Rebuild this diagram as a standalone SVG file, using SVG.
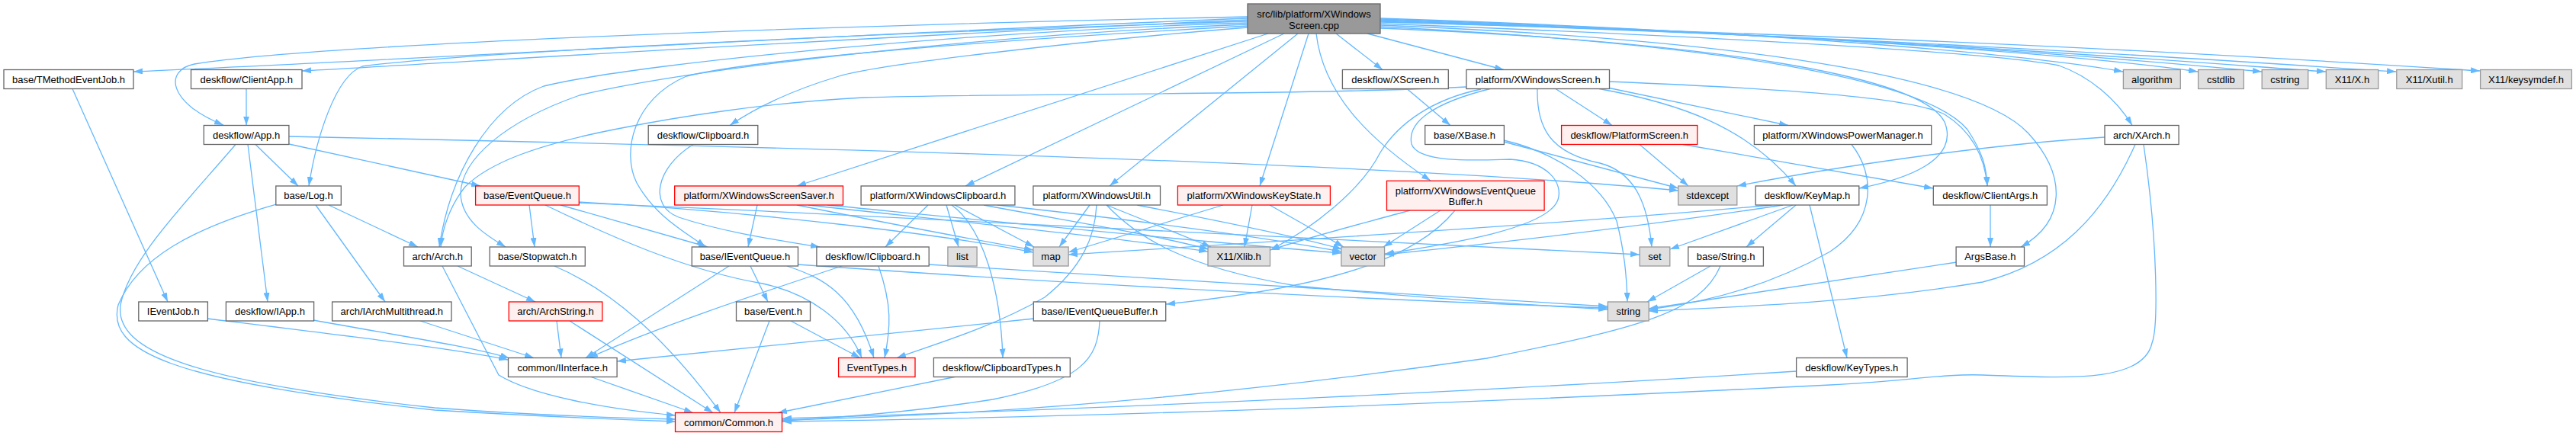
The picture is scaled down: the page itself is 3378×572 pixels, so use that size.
<svg xmlns="http://www.w3.org/2000/svg" width="3378" height="572" viewBox="0 0 3378 572">
<style>
.e{fill:none;stroke:#63B8FF;stroke-width:1.3;marker-end:url(#a)}
.n{fill:#FFFFFF;stroke:#666666;stroke-width:1.3}
.s{fill:#E0E0E0;stroke:#999999;stroke-width:1.3}
.t{fill:#FFF0F0;stroke:#FF0000;stroke-width:1.3}
.r{fill:#999999;stroke:#666666;stroke-width:1.3}
text{font-family:"Liberation Sans",Arial,Helvetica,sans-serif;font-size:13px;fill:#000000;text-anchor:middle}
</style>
<defs>
<marker id="a" markerWidth="12" markerHeight="8" refX="12" refY="4" orient="auto" markerUnits="userSpaceOnUse">
<path d="M0,0 L12,4 L0,8 z" fill="#63B8FF"/>
</marker>
</defs>
<rect width="3378" height="572" fill="#FFFFFF"/>
<g id="edges">
<path class="e" d="M1636,24 C1100,45 500,80 175,94"/>
<path class="e" d="M1636,26 C1100,50 600,82 396,93"/>
<path class="e" d="M1636,22 C1000,35 400,60 255,84 C215,92 220,135 293,164"/>
<path class="e" d="M1636,28 C1100,45 600,70 475,87 C440,100 415,180 405,244"/>
<path class="e" d="M1636,30 C1300,40 850,80 713,113 C640,140 590,230 576,324"/>
<path class="e" d="M1636,32 C1300,45 900,90 760,125 C660,160 605,210 604,254 C605,290 640,310 663,324"/>
<path class="e" d="M1636,36 C1400,55 1150,85 1100,100 C1050,115 1000,135 957,164.5"/>
<path class="e" d="M1636,34 C1350,50 1000,75 900,100 C830,130 815,200 835,240 C860,285 900,305 925,324"/>
<path class="e" d="M1663,44 L1045,244"/>
<path class="e" d="M1684,44 L1266,244"/>
<path class="e" d="M1702,44 L1455,244"/>
<path class="e" d="M1716,44 L1652,244"/>
<path class="e" d="M1726,44 C1735,120 1790,180 1876,237"/>
<path class="e" d="M1752,44 L1813,91.5"/>
<path class="e" d="M1793,44 L1972,91.5"/>
<path class="e" d="M1810,24 C2300,40 2650,70 2784,94"/>
<path class="e" d="M1810,25 C2400,45 2750,75 2882,94"/>
<path class="e" d="M1810,26 C2450,48 2800,78 2966,94"/>
<path class="e" d="M1810,27 C2500,50 2850,80 3050,94"/>
<path class="e" d="M1810,28 C2550,52 2950,82 3142,94"/>
<path class="e" d="M1810,29 C2600,50 3050,80 3252,93"/>
<path class="e" d="M1810,31 C2300,50 2620,70 2700,86 C2740,100 2775,130 2796,164.5"/>
<path class="e" d="M1810,33 C2350,55 2600,110 2660,175 C2710,230 2710,290 2650,324"/>
<path class="e" d="M1810,35 C2300,60 2530,110 2580,170 C2600,200 2605,220 2606,244"/>
<path class="e" d="M1810,37 C2250,55 2520,100 2550,160 C2570,210 2500,235 2438,247"/>
<path class="e" d="M1923,114 C1700,125 1350,122 1132,128 C1000,135 880,155 815,168 C700,190 640,215 610,245 C590,270 580,300 578,324"/>
<path class="e" d="M2040,116.5 L2114,164.5"/>
<path class="e" d="M2108,115 L2345,164.5"/>
<path class="e" d="M2097,116.5 C2200,135 2290,165 2355,244"/>
<path class="e" d="M2110,107 C2300,115 2500,125 2550,150 C2590,175 2603,210 2606,244"/>
<path class="e" d="M2016,116.5 C2015,165 2030,200 2098,214 C2140,225 2160,260 2166,324"/>
<path class="e" d="M1954,116.5 C1880,135 1845,160 1851,189 C1860,215 1940,210 1980,209 C2030,212 2050,240 2043,262 C2030,300 1900,320 1816,333"/>
<path class="e" d="M1942,117 C1880,130 1835,160 1810,200 C1785,250 1720,300 1666,328"/>
<path class="e" d="M1845,116.5 L1902,164.5"/>
<path class="e" d="M1972,186 L2201,247"/>
<path class="e" d="M1972,184 C2040,200 2100,240 2120,290 C2130,330 2133,360 2134,396"/>
<path class="e" d="M2150,189.5 L2214,244"/>
<path class="e" d="M2207,189.5 L2535,247"/>
<path class="e" d="M2428,189.5 C2460,230 2460,290 2400,330 C2330,370 2250,395 2162,406"/>
<path class="e" d="M2760,180 C2600,190 2400,220 2278,244"/>
<path class="e" d="M2800,189.5 C2760,280 2700,345 2600,370 C2450,395 2300,402 2162,408"/>
<path class="e" d="M2811,189.5 C2830,320 2830,430 2822,450 C2810,505 2700,495 2600,492 C2550,490 2500,500 2400,505 C1900,530 1400,548 1026,553"/>
<path class="e" d="M2610,269 L2610,324"/>
<path class="e" d="M2566,344 L2162,405"/>
<path class="e" d="M2323,269 C2100,290 1700,315 1401,334"/>
<path class="e" d="M2338,269 C2200,290 2000,315 1816,334"/>
<path class="e" d="M2351,269 L2190,327"/>
<path class="e" d="M2355,269 L2290,324"/>
<path class="e" d="M2373,269 L2422,469.5"/>
<path class="e" d="M2243,349 L2160,396"/>
<path class="e" d="M2256,349 C2230,410 2150,430 1950,470 C1600,520 1300,545 1026,551"/>
<path class="e" d="M2356,487 C2000,510 1500,535 1026,549"/>
<path class="e" d="M1908,276 C1860,335 1760,375 1529,399"/>
<path class="e" d="M1889,276 L1814,324"/>
<path class="e" d="M1849,276 C1780,295 1720,310 1666,328"/>
<path class="e" d="M1604,269 L1401,331"/>
<path class="e" d="M1642,269 L1632,324"/>
<path class="e" d="M1665,269 L1762,324"/>
<path class="e" d="M1429,269 L1389,324"/>
<path class="e" d="M1451,269 L1588,324"/>
<path class="e" d="M1438,269 C1436,310 1420,350 1370,390 C1300,430 1230,450 1176,469.5"/>
<path class="e" d="M1451,269 C1490,310 1550,350 1700,375 C1900,395 2050,402 2108,406"/>
<path class="e" d="M1491,269 C1600,290 1700,310 1760,327"/>
<path class="e" d="M1217,269 L1161,324"/>
<path class="e" d="M1241,269 L1257,324"/>
<path class="e" d="M1248,269 C1290,300 1312,380 1315,469.5"/>
<path class="e" d="M1252,269 L1356,324"/>
<path class="e" d="M1290,269 C1400,290 1500,305 1585,327"/>
<path class="e" d="M1308,269 C1500,290 1650,310 1759,330"/>
<path class="e" d="M993,269 L981,324"/>
<path class="e" d="M1045,269 C1150,290 1280,315 1355,328"/>
<path class="e" d="M1060,269 C1250,290 1450,310 1584,330"/>
<path class="e" d="M1085,269 C1300,290 1550,315 1759,332"/>
<path class="e" d="M694,269 L701,324"/>
<path class="e" d="M735,269 L928,324"/>
<path class="e" d="M715,269 C800,310 900,355 1000,372 C1060,385 1110,420 1130,469.5"/>
<path class="e" d="M759,265 C1000,278 1250,310 1355,331"/>
<path class="e" d="M759,266 C1300,290 1900,320 2150,334"/>
<path class="e" d="M909,189.5 C860,220 850,270 890,285 C950,305 1020,315 1075,324"/>
<path class="e" d="M335,189.5 L391,244"/>
<path class="e" d="M325,189.5 L351,396"/>
<path class="e" d="M379,189 L630,244"/>
<path class="e" d="M379,179 C1000,192 1800,212 2201,250"/>
<path class="e" d="M309,189.5 C240,270 170,340 158,400 C150,460 250,500 570,535 C700,545 800,548 886,550"/>
<path class="e" d="M362,268 C250,300 180,340 155,400 C140,460 220,500 570,538 C700,546 800,550 886,553"/>
<path class="e" d="M431,269 L548,324"/>
<path class="e" d="M414,269 L505,396"/>
<path class="e" d="M323,116.5 L323,164.5"/>
<path class="e" d="M95,116.5 L220,396"/>
<path class="e" d="M272,418 C450,440 600,458 666,472"/>
<path class="e" d="M411,420 C520,440 620,455 668,470"/>
<path class="e" d="M551,421 L700,469.5"/>
<path class="e" d="M600,349 L702,396"/>
<path class="e" d="M580,349 L654,492 C700,520 800,537 886,545"/>
<path class="e" d="M730,421 L736,469.5"/>
<path class="e" d="M747,421 L935,541.5"/>
<path class="e" d="M727,349 C800,380 870,440 945,541.5"/>
<path class="e" d="M775,494.5 L909,541.5"/>
<path class="e" d="M956,349 L768,469.5"/>
<path class="e" d="M984,349 L1007,396"/>
<path class="e" d="M1032,349 C1080,365 1120,385 1146,469.5"/>
<path class="e" d="M1046,347 C1300,365 1700,390 2108,404"/>
<path class="e" d="M1037,421 L1128,469.5"/>
<path class="e" d="M1009,421 L963,541.5"/>
<path class="e" d="M1104,349 C980,390 860,430 772,469.5"/>
<path class="e" d="M1152,349 C1170,400 1168,430 1160,469.5"/>
<path class="e" d="M1218,347 C1500,365 1800,385 2108,402"/>
<path class="e" d="M1356,418 C1150,440 950,460 809,474"/>
<path class="e" d="M1442,421 C1440,470 1420,500 1302,524 C1200,540 1100,548 1026,552"/>
<path class="e" d="M1252,494.5 L1020,541.5"/>
</g>
<g id="n_root"><rect class="r" x="1636" y="5" width="174" height="39"/><text x="1723" y="23">src/lib/platform/XWindows</text><text x="1723" y="38">Screen.cpp</text></g>
<g id="n_tmethodeventjob"><rect class="n" x="5" y="91.5" width="170" height="25"/><text x="90" y="108.5">base/TMethodEventJob.h</text></g>
<g id="n_clientapp"><rect class="n" x="250.5" y="91.5" width="145.5" height="25"/><text x="323.2" y="108.5">deskflow/ClientApp.h</text></g>
<g id="n_app"><rect class="n" x="267.3" y="164.5" width="111.6" height="25"/><text x="323.1" y="181.5">deskflow/App.h</text></g>
<g id="n_log"><rect class="n" x="361.8" y="244" width="85.5" height="25"/><text x="404.5" y="261">base/Log.h</text></g>
<g id="n_ieventjob"><rect class="n" x="181.8" y="396" width="90.6" height="25"/><text x="227.1" y="413">IEventJob.h</text></g>
<g id="n_iapp"><rect class="n" x="296.4" y="396" width="115.2" height="25"/><text x="354" y="413">deskflow/IApp.h</text></g>
<g id="n_iarchmultithread"><rect class="n" x="435.6" y="396" width="156.4" height="25"/><text x="513.8" y="413">arch/IArchMultithread.h</text></g>
<g id="n_arch"><rect class="n" x="529.5" y="324" width="88.7" height="25"/><text x="573.8" y="341">arch/Arch.h</text></g>
<g id="n_clipboard"><rect class="n" x="850.2" y="164.5" width="143.6" height="25"/><text x="922" y="181.5">deskflow/Clipboard.h</text></g>
<g id="n_eventqueue"><rect class="t" x="623.6" y="244" width="135.7" height="25"/><text x="691.4" y="261">base/EventQueue.h</text></g>
<g id="n_screensaver"><rect class="t" x="884.7" y="244" width="220.8" height="25"/><text x="995.1" y="261">platform/XWindowsScreenSaver.h</text></g>
<g id="n_stopwatch"><rect class="n" x="642.2" y="324" width="125.1" height="25"/><text x="704.7" y="341">base/Stopwatch.h</text></g>
<g id="n_ieventqueue"><rect class="n" x="907.3" y="324" width="139.2" height="25"/><text x="976.9" y="341">base/IEventQueue.h</text></g>
<g id="n_iclipboard"><rect class="n" x="1070.9" y="324" width="147.3" height="25"/><text x="1144.5" y="341">deskflow/IClipboard.h</text></g>
<g id="n_archstring"><rect class="t" x="667.3" y="396" width="122.5" height="25"/><text x="728.5" y="413">arch/ArchString.h</text></g>
<g id="n_event"><rect class="n" x="965.5" y="396" width="97" height="25"/><text x="1014" y="413">base/Event.h</text></g>
<g id="n_iinterface"><rect class="n" x="666.5" y="469.5" width="142.6" height="25"/><text x="737.8" y="486.5">common/IInterface.h</text></g>
<g id="n_eventtypes"><rect class="t" x="1099.6" y="469.5" width="100.4" height="25"/><text x="1149.8" y="486.5">EventTypes.h</text></g>
<g id="n_common"><rect class="t" x="885.5" y="541.5" width="140" height="25"/><text x="955.5" y="558.5">common/Common.h</text></g>
<g id="n_xwclipboard"><rect class="n" x="1129.1" y="244" width="201.8" height="25"/><text x="1230" y="261">platform/XWindowsClipboard.h</text></g>
<g id="n_xwutil"><rect class="n" x="1354.9" y="244" width="166.6" height="25"/><text x="1438.2" y="261">platform/XWindowsUtil.h</text></g>
<g id="n_xwkeystate"><rect class="t" x="1544.4" y="244" width="200" height="25"/><text x="1644.4" y="261">platform/XWindowsKeyState.h</text></g>
<g id="n_list"><rect class="s" x="1242.9" y="324" width="38.2" height="25"/><text x="1262" y="341">list</text></g>
<g id="n_map"><rect class="s" x="1354.9" y="324" width="46.2" height="25"/><text x="1378" y="341">map</text></g>
<g id="n_xlib"><rect class="s" x="1584" y="324" width="81.5" height="25"/><text x="1624.7" y="341">X11/Xlib.h</text></g>
<g id="n_ieventqueuebuffer"><rect class="n" x="1355.3" y="396" width="173.4" height="25"/><text x="1442" y="413">base/IEventQueueBuffer.h</text></g>
<g id="n_clipboardtypes"><rect class="n" x="1224.4" y="469.5" width="178.9" height="25"/><text x="1313.8" y="486.5">deskflow/ClipboardTypes.h</text></g>
<g id="n_xscreen"><rect class="n" x="1760.4" y="91.5" width="138.9" height="25"/><text x="1829.8" y="108.5">deskflow/XScreen.h</text></g>
<g id="n_xwscreen"><rect class="n" x="1922.9" y="91.5" width="187.6" height="25"/><text x="2016.7" y="108.5">platform/XWindowsScreen.h</text></g>
<g id="n_xbase"><rect class="n" x="1868.7" y="164.5" width="103.7" height="25"/><text x="1920.5" y="181.5">base/XBase.h</text></g>
<g id="n_platformscreen"><rect class="t" x="2047.6" y="164.5" width="178.2" height="25"/><text x="2136.7" y="181.5">deskflow/PlatformScreen.h</text></g>
<g id="n_xweqb"><rect class="t" x="1818.5" y="237.3" width="206.6" height="38.7"/><text x="1921.8" y="254.5">platform/XWindowsEventQueue</text><text x="1921.8" y="268.5">Buffer.h</text></g>
<g id="n_vector"><rect class="s" x="1758.9" y="324" width="56.7" height="25"/><text x="1787.2" y="341">vector</text></g>
<g id="n_stdexcept"><rect class="s" x="2200.7" y="244" width="77.1" height="25"/><text x="2239.2" y="261">stdexcept</text></g>
<g id="n_set"><rect class="s" x="2150.2" y="324" width="39.6" height="25"/><text x="2170" y="341">set</text></g>
<g id="n_string_h"><rect class="n" x="2213.8" y="324" width="98.6" height="25"/><text x="2263.1" y="341">base/String.h</text></g>
<g id="n_string"><rect class="s" x="2108.4" y="396" width="53.8" height="25"/><text x="2135.3" y="413">string</text></g>
<g id="n_powermanager"><rect class="n" x="2300.4" y="164.5" width="232.3" height="25"/><text x="2416.5" y="181.5">platform/XWindowsPowerManager.h</text></g>
<g id="n_keymap"><rect class="n" x="2302.2" y="244" width="135.6" height="25"/><text x="2370" y="261">deskflow/KeyMap.h</text></g>
<g id="n_clientargs"><rect class="n" x="2535.3" y="244" width="149.1" height="25"/><text x="2609.8" y="261">deskflow/ClientArgs.h</text></g>
<g id="n_argsbase"><rect class="n" x="2565.1" y="324" width="89.4" height="25"/><text x="2609.8" y="341">ArgsBase.h</text></g>
<g id="n_keytypes"><rect class="n" x="2355.6" y="469.5" width="145.5" height="25"/><text x="2428.3" y="486.5">deskflow/KeyTypes.h</text></g>
<g id="n_xarch"><rect class="n" x="2760" y="164.5" width="97.1" height="25"/><text x="2808.5" y="181.5">arch/XArch.h</text></g>
<g id="n_algorithm"><rect class="s" x="2784.4" y="91.5" width="74.9" height="25"/><text x="2821.8" y="108.5">algorithm</text></g>
<g id="n_cstdlib"><rect class="s" x="2882.6" y="91.5" width="59.7" height="25"/><text x="2912.4" y="108.5">cstdlib</text></g>
<g id="n_cstring"><rect class="s" x="2966.2" y="91.5" width="60.5" height="25"/><text x="2996.4" y="108.5">cstring</text></g>
<g id="n_x11x"><rect class="s" x="3050.3" y="91.5" width="68.5" height="25"/><text x="3084.5" y="108.5">X11/X.h</text></g>
<g id="n_xutil"><rect class="s" x="3142.8" y="91.5" width="85.9" height="25"/><text x="3185.7" y="108.5">X11/Xutil.h</text></g>
<g id="n_keysymdef"><rect class="s" x="3252.6" y="91.5" width="119.8" height="25"/><text x="3312.5" y="108.5">X11/keysymdef.h</text></g>
</svg>
